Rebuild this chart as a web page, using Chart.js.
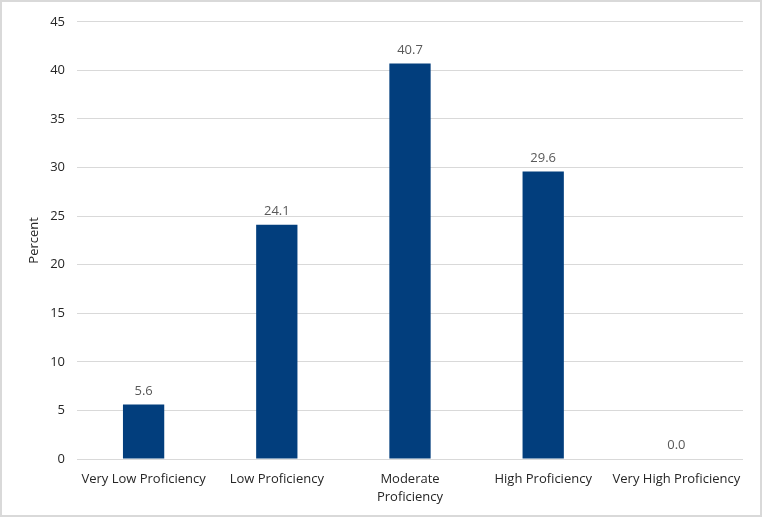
<!DOCTYPE html>
<html>
<head>
<meta charset="utf-8">
<script src="https://cdn.jsdelivr.net/npm/chart.js@4/dist/chart.umd.min.js"></script>
<style>
  html, body { margin: 0; padding: 0; background: #fff; }
  #wrap { width: 758px; height: 513px; border: 2px solid #d9d9d9; position: relative; }
</style>
</head>
<body>
<div id="wrap"><canvas id="chart"></canvas></div>
<script>
// values
const categories = ['Very Low Proficiency', 'Low Proficiency', ['Moderate', 'Proficiency'], 'High Proficiency', 'Very High Proficiency'];
const percents = [5.6, 24.1, 40.7, 29.6, 0.0];
const yTicks = [0, 5, 10, 15, 20, 25, 30, 35, 40, 45];

const FONT = "'Open Sans', 'Noto Sans', sans-serif";

// draws the value above each bar
const valueLabels = {
  id: 'valueLabels',
  afterDatasetsDraw(chart) {
    const ctx = chart.ctx;
    const meta = chart.getDatasetMeta(0);
    ctx.save();
    ctx.font = '13px ' + FONT;
    ctx.fillStyle = '#595959';
    ctx.textAlign = 'center';
    ctx.textBaseline = 'bottom';
    meta.data.forEach((bar, i) => {
      ctx.fillText(percents[i].toFixed(1), bar.x, bar.y - 7);
    });
    ctx.restore();
  }
};

new Chart(document.getElementById('chart'), {
  type: 'bar',
  data: {
    labels: categories,
    datasets: [{
      data: percents,
      backgroundColor: '#023e7d',
      barPercentage: 0.31,
      categoryPercentage: 1
    }]
  },
  options: {
    responsive: true,
    maintainAspectRatio: false,
    animation: false,
    layout: { padding: { top: 15, right: 17, left: 0, bottom: 0 } },
    plugins: {
      legend: { display: false },
      tooltip: { enabled: false }
    },
    scales: {
      x: {
        grid: { display: false, drawTicks: false },
        border: { display: false },
        ticks: {
          color: '#262626',
          font: { family: FONT, size: 13, lineHeight: 1.35 },
          padding: 12,
          maxRotation: 0,
          autoSkip: false
        },
        afterFit(scale) { scale.height = 56; }
      },
      y: {
        min: 0,
        max: 45,
        afterBuildTicks(scale) { scale.ticks = yTicks.map(v => ({ value: v })); },
        grid: { color: '#d9d9d9', drawTicks: false },
        border: { display: false },
        ticks: {
          color: '#262626',
          font: { family: FONT, size: 13 },
          padding: 12
        },
        title: {
          display: true,
          text: 'Percent',
          color: '#262626',
          font: { family: FONT, size: 13 },
          padding: { top: 24, bottom: 0 }
        },
        afterFit(scale) { scale.width = 75; }
      }
    }
  },
  plugins: [valueLabels]
});
</script>
</body>
</html>
